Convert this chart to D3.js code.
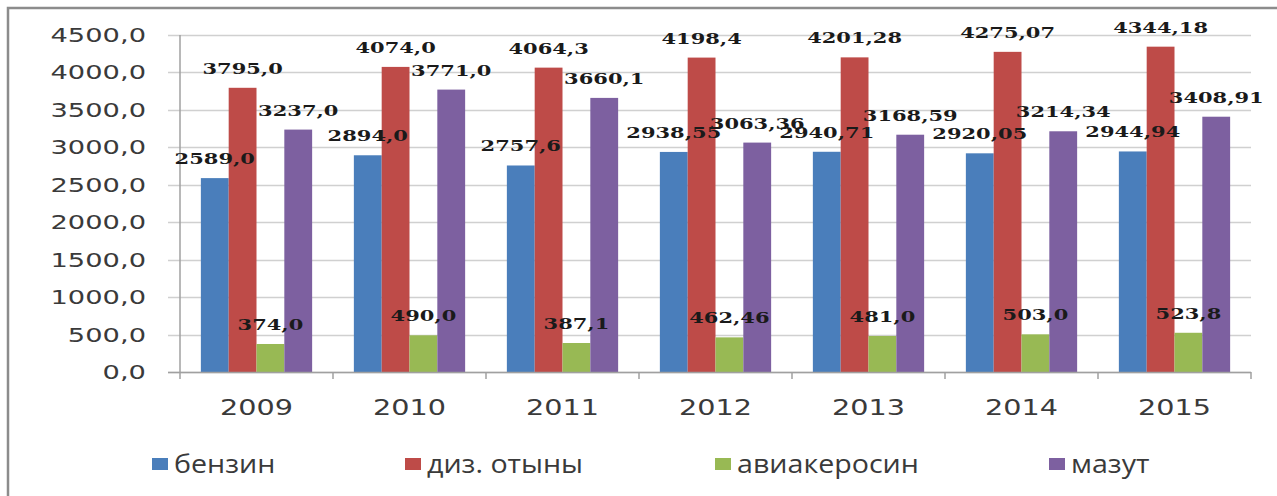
<!DOCTYPE html>
<html><head><meta charset="utf-8">
<script src="https://cdn.jsdelivr.net/npm/d3@7"></script>
<style>body{margin:0;background:#fff}svg{display:block}</style>
</head><body>
<svg id="c" width="1277" height="496"></svg>
<script>
const categories = ["2009","2010","2011","2012","2013","2014","2015"];
const seriesNames = ["бензин","диз. отыны","авиакеросин","мазут"];
const benzin   = [2589.0, 2894.0, 2757.6, 2938.55, 2940.71, 2920.05, 2944.94];
const dizel    = [3795.0, 4074.0, 4064.3, 4198.4, 4201.28, 4275.07, 4344.18];
const avia     = [374.0, 490.0, 387.1, 462.46, 481.0, 503.0, 523.8];
const mazut    = [3237.0, 3771.0, 3660.1, 3063.36, 3168.59, 3214.34, 3408.91];
const labelsBenzin = ["2589,0","2894,0","2757,6","2938,55","2940,71","2920,05","2944,94"];
const labelsDizel  = ["3795,0","4074,0","4064,3","4198,4","4201,28","4275,07","4344,18"];
const labelsAvia   = ["374,0","490,0","387,1","462,46","481,0","503,0","523,8"];
const labelsMazut  = ["3237,0","3771,0","3660,1","3063,36","3168,59","3214,34","3408,91"];
const yTicks = [0,500,1000,1500,2000,2500,3000,3500,4000,4500];
const colors = ["#4a7ebb","#be4b48","#98b954","#7d60a0"];

const series = [benzin, dizel, avia, mazut];
const seriesLabels = [labelsBenzin, labelsDizel, labelsAvia, labelsMazut];

const svg = d3.select("#c");
const SX = 1.4;
const pLeft = 180, pRight = 1251, pTop = 35, pBottom = 372;

svg.append("rect").attr("x",8).attr("y",8).attr("width",1290).attr("height",510)
  .attr("fill","#fff").attr("stroke","#8c8c8c").attr("stroke-width",2.5);

const x = d3.scaleBand().domain(categories).range([pLeft,pRight]).paddingInner(0).paddingOuter(0);
const y = d3.scaleLinear().domain([0,4500]).range([pBottom,pTop]);
const bw = x.bandwidth()/5.5;
const xo = i => x.bandwidth()*0.75/5.5 + i*bw;

// gridlines
svg.append("g").selectAll("line").data(yTicks).join("line")
  .attr("x1",168).attr("x2",pRight).attr("y1",d=>Math.round(y(d))+0.5).attr("y2",d=>Math.round(y(d))+0.5)
  .attr("stroke","#d0d0d0").attr("stroke-width",1.5);

// y axis line
svg.append("line").attr("x1",pLeft).attr("x2",pLeft).attr("y1",pTop).attr("y2",pBottom)
  .attr("stroke","#a0a0a0").attr("stroke-width",1.5);

// y tick labels
svg.append("g").selectAll("text").data(yTicks).join("text")
  .attr("transform",d=>`translate(146,${y(d)+7}) scale(${SX},1)`)
  .attr("text-anchor","end").attr("font-family","DejaVu Sans").attr("font-size",19.5)
  .attr("fill","#3a3a3a").text(d=>d3.format(".1f")(d).replace(".",","));

// bars
categories.forEach((c,ci)=>{
  series.forEach((s,si)=>{
    svg.append("rect").attr("x",x(c)+xo(si)).attr("width",bw).attr("y",y(s[ci]))
      .attr("height",y(0)-y(s[ci])).attr("fill",colors[si]);
  });
});

// x axis
svg.append("line").attr("x1",168).attr("x2",pRight).attr("y1",pBottom+0.5).attr("y2",pBottom+0.5)
  .attr("stroke","#a0a0a0").attr("stroke-width",1.5);
svg.append("g").selectAll("line").data(d3.range(categories.length+1)).join("line")
  .attr("x1",i=>pLeft+i*x.bandwidth()).attr("x2",i=>pLeft+i*x.bandwidth())
  .attr("y1",pBottom).attr("y2",pBottom+7).attr("stroke","#a0a0a0").attr("stroke-width",1.5);
svg.append("g").selectAll("text").data(categories).join("text")
  .attr("transform",d=>`translate(${x(d)+x.bandwidth()/2},${415}) scale(${SX},1)`)
  .attr("text-anchor","middle").attr("font-family","DejaVu Sans").attr("font-size",20.5)
  .attr("fill","#3a3a3a").text(d=>d);

// data labels
categories.forEach((c,ci)=>{
  series.forEach((s,si)=>{
    svg.append("text")
      .attr("transform",`translate(${x(c)+xo(si)+bw/2},${y(s[ci])-14}) scale(${SX},1)`)
      .attr("text-anchor","middle").attr("font-family","DejaVu Serif").attr("font-weight","bold")
      .attr("font-size",15).attr("fill","#1a1a1a").text(seriesLabels[si][ci]);
  });
});

// legend
const legX = [152, 405, 715, 1049];
seriesNames.forEach((n,i)=>{
  svg.append("rect").attr("x",legX[i]).attr("y",458).attr("width",16).attr("height",12).attr("fill",colors[i]);
  svg.append("text").attr("transform",`translate(${legX[i]+22},${473}) scale(1.1,1)`)
    .attr("font-family","Open Sans").attr("font-size",26).attr("fill","#3a3a3a").text(n);
});
</script>
</body></html>
